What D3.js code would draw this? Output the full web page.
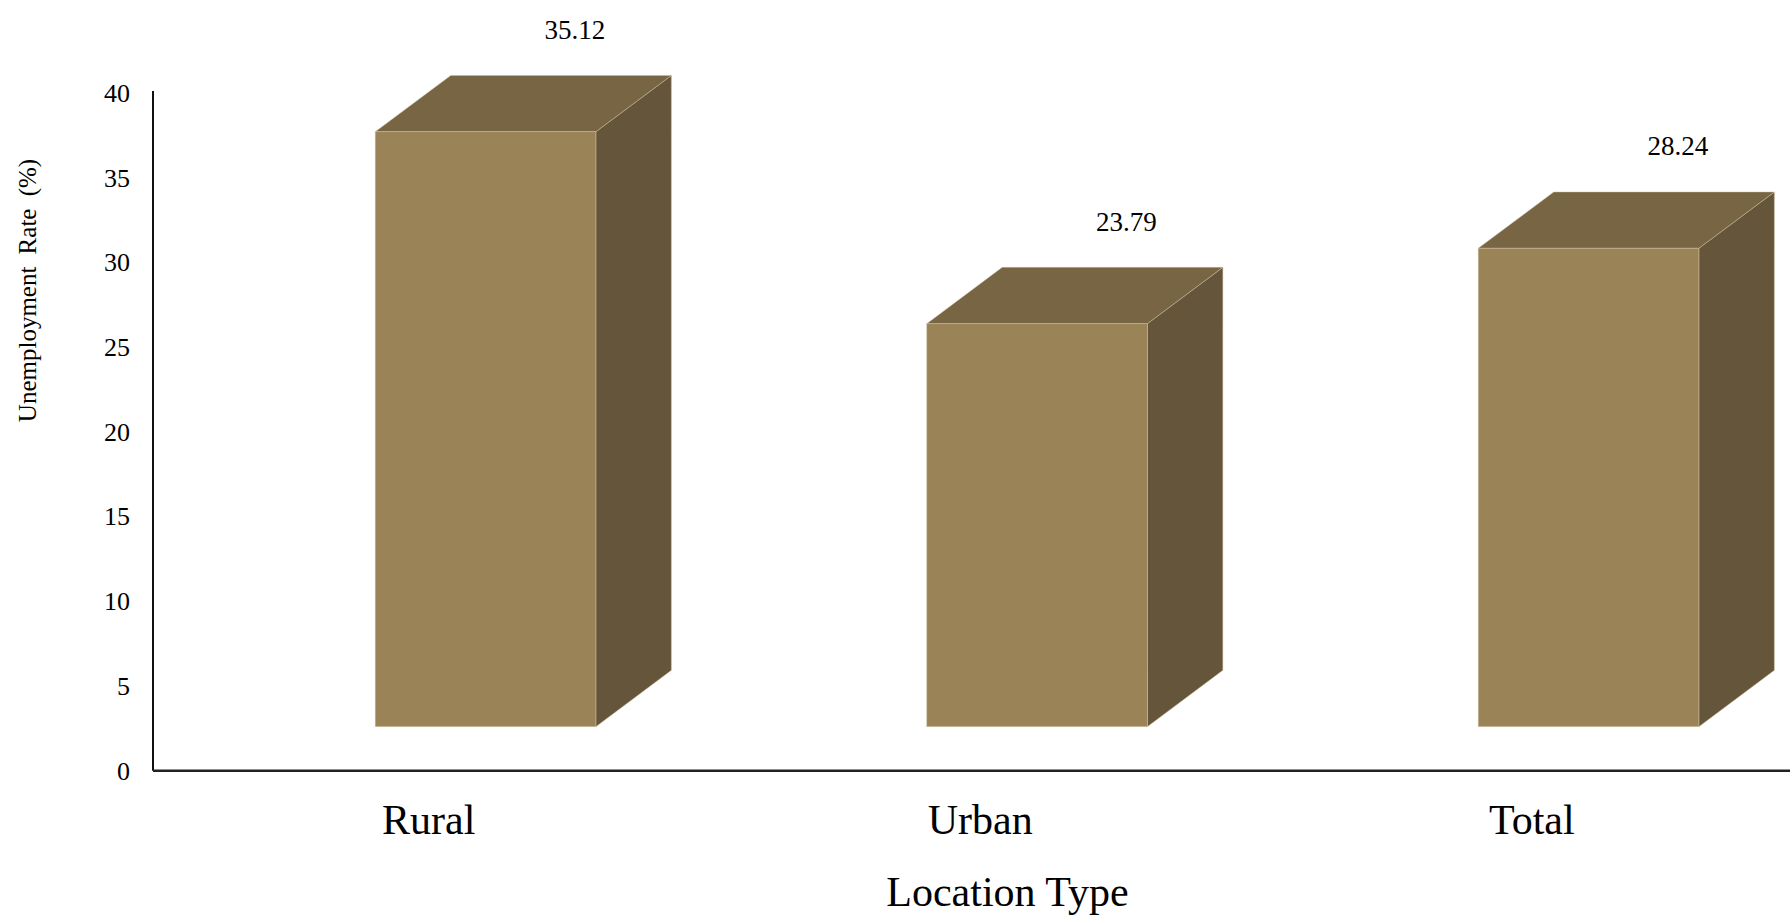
<!DOCTYPE html>
<html>
<head>
<meta charset="utf-8">
<script src="https://cdn.jsdelivr.net/npm/d3@7"></script>
<style>
  html, body { margin: 0; padding: 0; background: #fff; }
  svg { display: block; }
  text { font-family: "Liberation Serif", "Times New Roman", serif; fill: #000; }
</style>
</head>
<body>
<svg id="chart" width="1790" height="919"></svg>
<script>
// Unemployment rate by location type
const categories = ["Rural", "Urban", "Total"];
const rates = [35.12, 23.79, 28.24];
const yTicks = [0, 5, 10, 15, 20, 25, 30, 35, 40];
const yTitle = "Unemployment Rate (%)";
const xTitle = "Location Type";

(function draw() {
  const W = 1790;
  const svg = d3.select("#chart");

  const plotLeft = 153, plotBottom = 770.7, plotTop = 93.1;
  const x = d3.scaleBand().domain(categories).range([plotLeft, 1807.5]).padding(0);
  const y = d3.scaleLinear().domain([0, 40]).range([plotBottom, plotTop]);

  // 3D box geometry: front face lifted off the floor, with a receding depth
  const floorLift = 2.6;          // in value units
  const depthX = 75.5, depthY = 56.3;
  const bw = x.bandwidth();
  const frontOffset = bw * 0.403, frontWidth = bw * 0.4;

  const colors = { front: "#9a8357", top: "#786544", side: "#65553a", edge: "#cdbf9f" };

  const bars = svg.append("g").selectAll("g")
    .data(categories.map((c, i) => ({ cat: c, v: rates[i] })))
    .join("g");

  bars.each(function(d) {
    const g = d3.select(this);
    const x0 = x(d.cat) + frontOffset, x1 = x0 + frontWidth;
    const yb = y(floorLift), yt = y(floorLift + d.v);
    // side face
    g.append("path")
      .attr("d", `M${x1},${yt}L${x1 + depthX},${yt - depthY}L${x1 + depthX},${yb - depthY}L${x1},${yb}Z`)
      .attr("fill", colors.side).attr("stroke", colors.edge).attr("stroke-width", 0.8).attr("stroke-opacity", 0.6);
    // top face
    g.append("path")
      .attr("d", `M${x0},${yt}L${x0 + depthX},${yt - depthY}L${x1 + depthX},${yt - depthY}L${x1},${yt}Z`)
      .attr("fill", colors.top).attr("stroke", colors.edge).attr("stroke-width", 0.8).attr("stroke-opacity", 0.6);
    // front face
    g.append("rect")
      .attr("x", x0).attr("y", yt).attr("width", frontWidth).attr("height", yb - yt)
      .attr("fill", colors.front).attr("stroke", colors.edge).attr("stroke-width", 0.8).attr("stroke-opacity", 0.6);
    // value label
    g.append("text")
      .attr("x", x1 - 21).attr("y", yt - depthY - 46)
      .attr("dy", "0.35em")
      .attr("text-anchor", "middle")
      .style("font-size", "27px")
      .text(d.v.toFixed(2));
  });

  // y axis
  const yAxis = svg.append("g")
    .attr("transform", `translate(${plotLeft},0)`)
    .call(d3.axisLeft(y).tickValues(yTicks).tickSize(0).tickPadding(23));
  yAxis.select(".domain").attr("stroke", "#111").attr("stroke-width", 2).attr("d", `M0,${plotBottom}V91`);
  yAxis.selectAll("text").style("font-size", "26px").style("font-family", "Liberation Serif").attr("fill", "#000");

  // x axis
  const xAxis = svg.append("g")
    .attr("transform", `translate(0,${plotBottom})`)
    .call(d3.axisBottom(x).tickSize(0).tickPadding(33.5));
  xAxis.select(".domain").attr("stroke", "#222").attr("stroke-width", 2.5).attr("d", `M${plotLeft},0H${W}`);
  xAxis.selectAll("text").style("font-size", "42px").style("font-family", "Liberation Serif").attr("fill", "#000");

  // axis titles
  svg.append("text")
    .attr("transform", "translate(36,290.5) rotate(-90)")
    .attr("text-anchor", "middle")
    .style("font-size", "25px")
    .style("word-spacing", "6px")
    .text(yTitle);

  svg.append("text")
    .attr("x", 1007.5).attr("y", 906)
    .attr("text-anchor", "middle")
    .style("font-size", "42px")
    .text(xTitle);
})();
</script>
</body>
</html>
